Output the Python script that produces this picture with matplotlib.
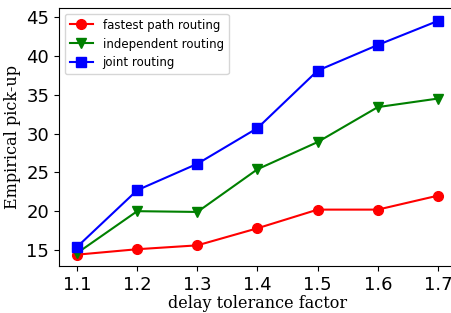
import numpy as np
import matplotlib
matplotlib.use("Agg")
import matplotlib.pyplot as plt

# delay tolerance factors
factors = [1.1, 1.2, 1.3, 1.4, 1.5, 1.6, 1.7]

# empirical pick-up for each routing method
fastest = [14.4, 15.1, 15.6, 17.8, 20.2, 20.2, 22.0]
independent = [14.6, 20.0, 19.9, 25.4, 28.9, 33.4, 34.5]
joint = [15.4, 22.7, 26.1, 30.7, 38.1, 41.4, 44.5]

yticks = [15, 20, 25, 30, 35, 40, 45]

fig = plt.figure(figsize=(4.52, 3.13), dpi=100)
W, H = 452, 313
ax = fig.add_axes([59 / W, 1 - 266 / H, (456 - 59) / W, (266 - 8) / H])

ax.plot(factors, fastest, color="red", marker="o", markersize=7, linewidth=1.5, label="fastest path routing")
ax.plot(factors, independent, color="green", marker="v", markersize=7, linewidth=1.5, label="independent routing")
ax.plot(factors, joint, color="blue", marker="s", markersize=7, linewidth=1.5, label="joint routing")

ax.set_xlim(1.07, 1.73)
ax.set_ylim(12.94, 46.16)
ax.set_xticks(factors)
ax.set_yticks(yticks)
ax.tick_params(labelsize=13)

ax.set_xlabel("delay tolerance factor", family="DejaVu Serif", fontsize=11.5, labelpad=1)
ax.set_ylabel("Empirical pick-up", family="DejaVu Serif", fontsize=11.5)

ax.legend(loc="upper left", fontsize=8.5)

fig.savefig("out.png", dpi=100)
